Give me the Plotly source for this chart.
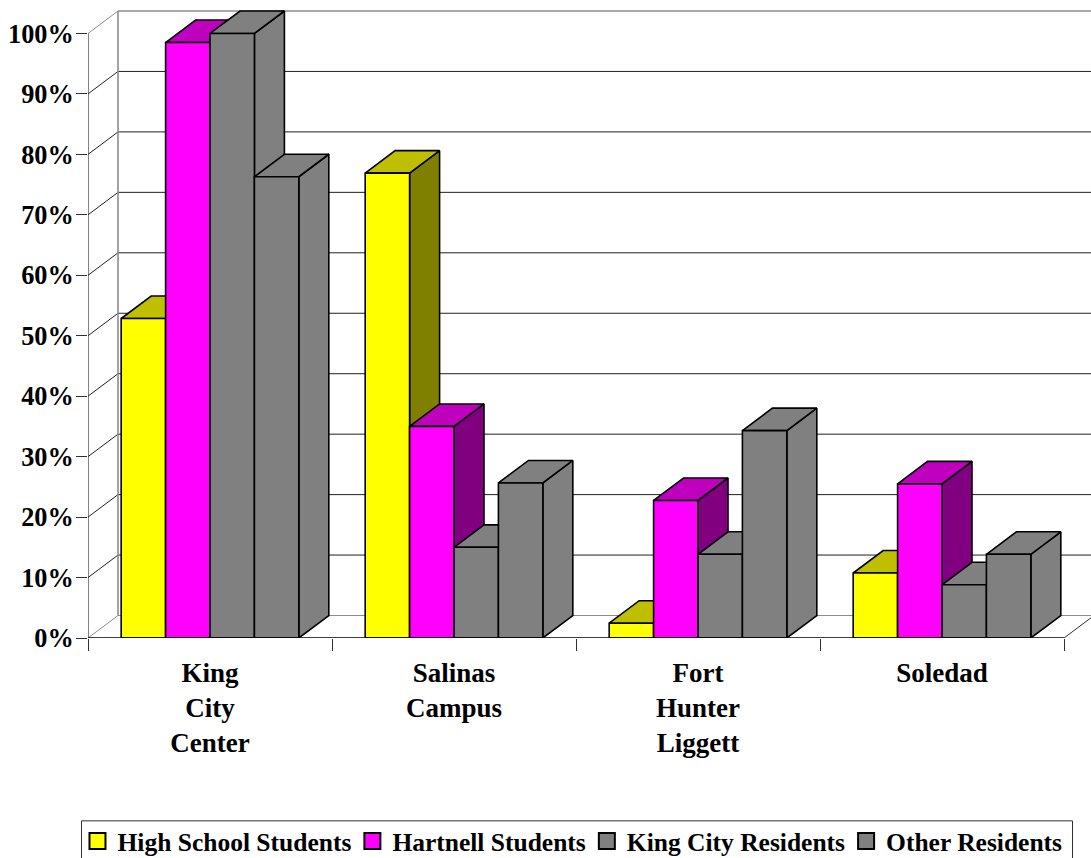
import plotly.graph_objects as go

categories = ["King<br>City<br>Center", "Salinas<br>Campus", "Fort<br>Hunter<br>Liggett", "Soledad"]
high_school = [52.85, 76.9, 2.45, 10.75]
hartnell = [98.5, 35.0, 22.75, 25.5]
king_city = [100.0, 15.0, 13.85, 8.8]
other_res = [76.3, 25.65, 34.3, 13.85]
y_ticks = [0, 10, 20, 30, 40, 50, 60, 70, 80, 90, 100]
y_labels = [f"{v}%" for v in y_ticks]

series = [
    ("High School Students", high_school, "#FFFF00", "#BFBF00", "#808000"),
    ("Hartnell Students", hartnell, "#FF00FF", "#BF00BF", "#800080"),
    ("King City Residents", king_city, "#808080", "#808080", "#808080"),
    ("Other Residents", other_res, "#808080", "#808080", "#808080"),
]

PX_X = 244.0
PX_Y = 6.05
DX = 30 / PX_X
DY = 22.5 / PX_Y
BAR_W = 0.182
GAP = (1 - 4 * BAR_W) / 2
LEFT = 88
BOTTOM = 638.5
X_MAX = (1091 - LEFT) / PX_X
Y_MAX = BOTTOM / PX_Y
FONT = "Liberation Serif"
FS = 25.5

fig = go.Figure()


def line(xs, ys, color, width=1.0):
    fig.add_trace(go.Scatter(x=xs, y=ys, mode="lines", line=dict(color=color, width=width),
                             showlegend=False, hoverinfo="skip", cliponaxis=False))


def face(xs, ys, fill):
    fig.add_trace(go.Scatter(x=xs, y=ys, mode="lines", fill="toself", fillcolor=fill,
                             line=dict(color="#000000", width=1.6), showlegend=False,
                             hoverinfo="skip", cliponaxis=False))


# walls and gridlines
for v in y_ticks:
    wall = "#8c8c8c" if v in (0, 100) else "#202020"
    line([DX, X_MAX], [v + DY, v + DY], wall, 1.6 if v == 100 else 1.2 if v == 0 else 1.0)
    line([0, DX], [v, v + DY], wall, 1.0)
line([DX, DX], [DY, 100 + DY], "#8c8c8c", 1.6)
line([0, 0], [0, 100], "#303030", 1.2)
line([4, X_MAX], [0, (X_MAX - 4) / DX * DY], "#303030", 1.0)

# bars, painted left to right
for c in range(len(categories)):
    for s, (name, vals, front, top, side) in enumerate(series):
        v = vals[c]
        x0 = c + GAP + s * BAR_W
        x1 = x0 + BAR_W
        face([x1, x1 + DX, x1 + DX, x1, x1], [0, DY, v + DY, v, 0], side)
        face([x0, x0 + DX, x1 + DX, x1, x0], [v, v + DY, v + DY, v, v], top)
        face([x0, x1, x1, x0, x0], [0, 0, v, v, 0], front)

line([0, 4], [0, 0], "#000000", 1.6)

# legend entries
for name, vals, front, top, side in series:
    fig.add_trace(go.Scatter(x=[None], y=[None], mode="markers", name=name,
                             marker=dict(symbol="square", size=16, color=front,
                                         line=dict(color="#000000", width=2))))

plot_w = 1091 - LEFT
fig.update_layout(
    width=1091, height=858,
    margin=dict(l=LEFT, r=0, t=0, b=858 - BOTTOM, autoexpand=False),
    paper_bgcolor="#FFFFFF", plot_bgcolor="#FFFFFF",
    font=dict(family=FONT, size=FS, color="#000000"),
    xaxis=dict(range=[0, X_MAX], tickmode="array", tickvals=[0.5, 1.5, 2.5, 3.5], ticktext=categories,
               ticks="", ticklen=0, showgrid=False, zeroline=False, showline=False,
               tickfont=dict(family=FONT, size=27, weight="bold", color="#000000"),
               ticklabelstandoff=16,
               minor=dict(tickmode="linear", tick0=0, dtick=1, ticks="outside", ticklen=12,
                          tickwidth=1, tickcolor="#303030", showgrid=False)),
    yaxis=dict(range=[0, Y_MAX], tickmode="array", tickvals=y_ticks, ticktext=y_labels,
               ticks="outside", ticklen=11, tickwidth=1, tickcolor="#303030",
               showgrid=False, zeroline=False, showline=False, ticklabelstandoff=-3,
               tickfont=dict(family=FONT, size=26.3, weight="bold", color="#000000")),
    legend=dict(orientation="h", x=-0.0065, xanchor="left", y=(BOTTOM - 818.5) / BOTTOM, yanchor="top",
                borderwidth=0, bgcolor="rgba(0,0,0,0)", indentation=-4,
                font=dict(family=FONT, size=FS, weight="bold", color="#000000"),
                itemclick=False, itemdoubleclick=False),
    shapes=[dict(type="rect", xref="paper", yref="paper", layer="below",
                 x0=(81.5 - LEFT) / plot_w, x1=(1072.5 - LEFT) / plot_w,
                 y0=(BOTTOM - 875) / BOTTOM, y1=(BOTTOM - 821.5) / BOTTOM,
                 line=dict(color="#303030", width=1), fillcolor="rgba(0,0,0,0)")],
    showlegend=True,
)

fig.write_html("out.html", config={"displayModeBar": False},
               post_script="document.body.style.margin='0';document.documentElement.style.overflow='hidden';")
